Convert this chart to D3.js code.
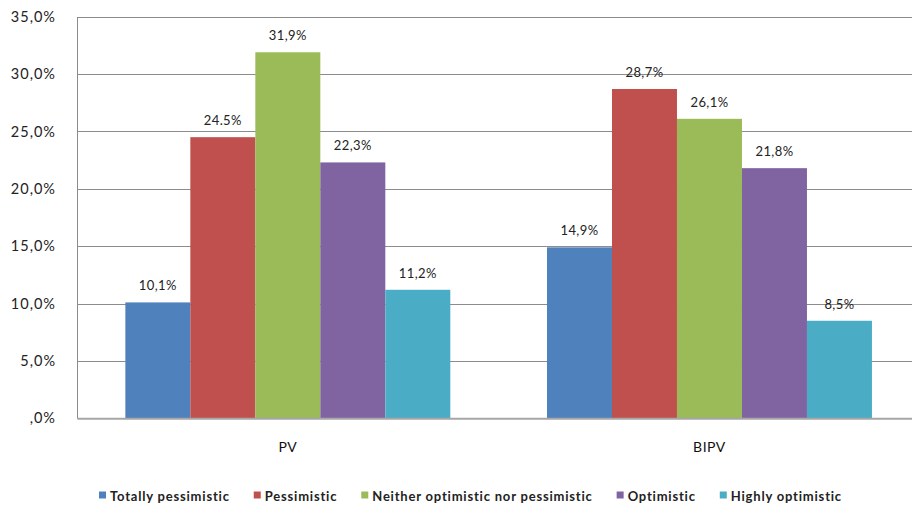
<!DOCTYPE html>
<html>
<head>
<meta charset="utf-8">
<script src="https://cdn.jsdelivr.net/npm/d3@7"></script>
<style>
  html, body { margin: 0; padding: 0; background: #fff; }
  svg { display: block; font-family: Lato, "Open Sans", sans-serif; }
</style>
</head>
<body>
<svg id="chart" width="912" height="510"></svg>
<script>
// Survey outlook for PV and BIPV
const categories = ["PV", "BIPV"];
const seriesNames = ["Totally pessimistic", "Pessimistic", "Neither optimistic nor pessimistic", "Optimistic", "Highly optimistic"];
const pvValues   = [10.1, 24.5, 31.9, 22.3, 11.2];
const bipvValues = [14.9, 28.7, 26.1, 21.8, 8.5];
const pvLabels   = ["10,1%", "24.5%", "31,9%", "22,3%", "11,2%"];
const bipvLabels = ["14,9%", "28,7%", "26,1%", "21,8%", "8,5%"];
const yTicks = [0, 5, 10, 15, 20, 25, 30, 35];
const yTickLabels = [",0%", "5,0%", "10,0%", "15,0%", "20,0%", "25,0%", "30,0%", "35,0%"];
const colors = ["#4f81bd", "#c0504d", "#9bbb59", "#8064a2", "#4bacc6"];

const values = [pvValues, bipvValues];
const labels = [pvLabels, bipvLabels];

const svg = d3.select("#chart");
const plot = { left: 77, right: 920.3, top: 16.7, bottom: 418.3 };

const x0 = d3.scaleBand().domain(categories).range([plot.left, plot.right]).paddingInner(0).paddingOuter(0);
const groupPad = 0.2293; // gap between clusters as a fraction of the band
const x1 = d3.scaleBand().domain(seriesNames)
  .range([x0.bandwidth() * groupPad / 2, x0.bandwidth() * (1 - groupPad / 2)]);
const y = d3.scaleLinear().domain([0, 35]).range([plot.bottom, plot.top]);

// horizontal gridlines
svg.append("g").selectAll("line").data(yTicks.filter(t => t > 0)).join("line")
  .attr("x1", plot.left).attr("x2", plot.right)
  .attr("y1", d => Math.round(y(d)) + 0.5).attr("y2", d => Math.round(y(d)) + 0.5)
  .attr("stroke", "#8c8c8c").attr("stroke-width", 1);

// y axis
const yAxis = d3.axisLeft(y).tickValues(yTicks).tickSize(0).tickPadding(21)
  .tickFormat((d, i) => yTickLabels[i]);
const gy = svg.append("g").attr("transform", `translate(${plot.left},0)`).call(yAxis);
gy.select(".domain").attr("stroke", "#8c8c8c");
gy.selectAll("text").attr("font-size", 14.5).attr("letter-spacing", 1)
  .attr("fill", "#222").attr("font-family", "Lato, sans-serif");

// bars
const groups = svg.append("g").selectAll("g").data(categories).join("g")
  .attr("transform", d => `translate(${x0(d)},0)`);
groups.each(function(cat, ci) {
  const g = d3.select(this);
  const rows = seriesNames.map((s, si) => ({ s, si, v: values[ci][si], lab: labels[ci][si] }));
  g.selectAll("rect").data(rows).join("rect")
    .attr("x", d => x1(d.s)).attr("width", x1.bandwidth())
    .attr("y", d => y(d.v)).attr("height", d => y(0) - y(d.v))
    .attr("fill", d => colors[d.si]);
  g.selectAll("text").data(rows).join("text")
    .attr("x", d => x1(d.s) + x1.bandwidth() / 2)
    .attr("y", d => y(d.v) - 12)
    .attr("text-anchor", "middle")
    .attr("font-size", 13).attr("letter-spacing", 0.4).attr("fill", "#222")
    .text(d => d.lab);
});

// x axis
const xAxis = d3.axisBottom(x0).tickSize(0).tickPadding(24);
const gx = svg.append("g").attr("transform", `translate(0,${plot.bottom})`).call(xAxis);
gx.select(".domain").attr("stroke", "#a6a6a6").attr("stroke-width", 2);
gx.selectAll("text").attr("font-size", 14).attr("letter-spacing", 0.5)
  .attr("fill", "#111").attr("font-family", "Lato, sans-serif");

// legend
const legend = svg.append("g").attr("transform", "translate(99,496)");
let lx = 0;
seriesNames.forEach((s, i) => {
  const item = legend.append("g").attr("transform", `translate(${lx},0)`);
  item.append("rect").attr("x", 0).attr("y", -4.5).attr("width", 7).attr("height", 7).attr("fill", colors[i]);
  const t = item.append("text").attr("x", 11).attr("y", 0).attr("dy", "0.35em")
    .attr("font-size", 13).attr("letter-spacing", 0.8)
    .attr("font-weight", "bold").attr("fill", "#222").text(s);
  lx += 11 + t.node().getComputedTextLength() + 24;
});
</script>
</body>
</html>
